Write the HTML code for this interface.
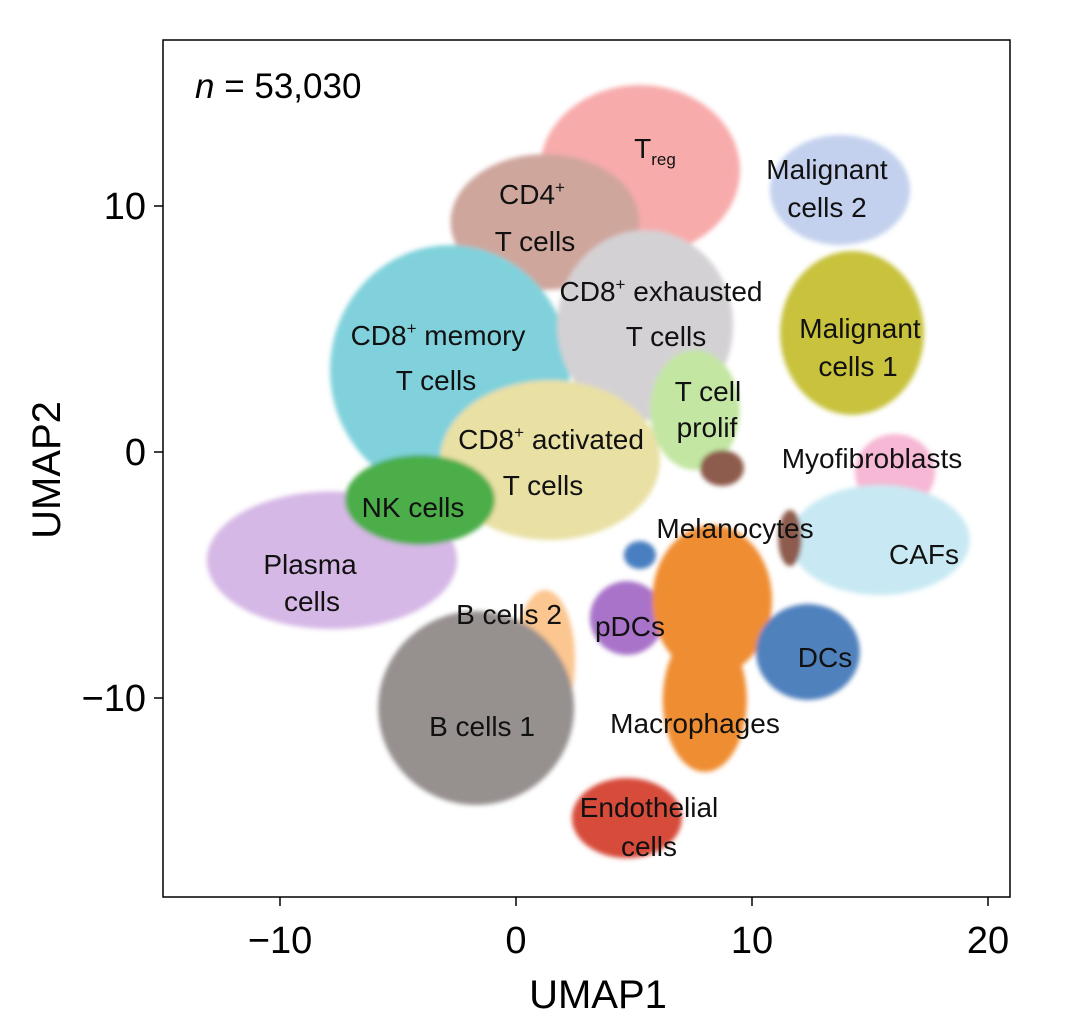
<!DOCTYPE html>
<html><head><meta charset="utf-8"><style>
html,body{margin:0;padding:0;background:#fff;}
svg{display:block;font-family:"Liberation Sans",Arial,sans-serif;}
</style></head><body>
<svg id="chart" width="1080" height="1032" viewBox="0 0 1080 1032">
<defs><filter id="soft" x="-20%" y="-20%" width="140%" height="140%"><feGaussianBlur stdDeviation="2.5"/></filter></defs>
<rect x="163" y="40" width="847" height="857" fill="#fff" stroke="#000" stroke-width="1.5"/>
<g id="marks" filter="url(#soft)"></g>
<g id="axes"></g>
<g id="labels" font-size="28" fill="#111"></g>
<text x="195" y="98" font-size="35"><tspan font-style="italic">n</tspan> = 53,030</text>
<text x="598" y="1008" font-size="40" text-anchor="middle">UMAP1</text>
<text x="0" y="0" font-size="40" text-anchor="middle" transform="translate(60,470) rotate(-90)">UMAP2</text>
</svg>
<script>
const clusterNames=["treg","cd4-t","cd8-memory","cd8-exhausted","cd8-activated","plasma","nk","t-prolif","malignant-2","malignant-1","myofibroblasts","cafs","melanocytes-a","melanocytes-b","b-cells-2","b-cells-1","pdcs","macrophages-top","macrophages-bottom","blue-patch","dcs","endothelial"];
const centerX=[5.25,1.23,-2.8,5.47,1.44,-7.8,-4.07,7.58,13.73,14.24,16.06,15.42,8.73,11.61,1.23,-1.69,4.7,8.31,8.0,5.25,12.37,4.7];
const centerY=[11.46,9.35,3.33,5.16,-0.33,-4.4,-1.95,1.71,10.65,4.84,-0.81,-3.58,-0.65,-3.5,-8.46,-10.41,-6.75,-6.02,-10.08,-4.19,-8.13,-14.88];
const spreadX=[4.24,4.0,5.08,3.73,4.66,5.3,3.18,1.9,2.97,3.05,1.7,3.81,0.93,0.5,1.27,4.15,1.57,2.54,1.78,0.68,2.2,2.33];
const spreadY=[3.46,2.76,5.08,3.86,3.25,2.8,1.83,2.44,2.24,3.33,1.54,2.24,0.73,1.14,2.85,3.94,1.5,3.05,2.93,0.57,1.95,1.63];
const colors=["#f8abab","#cfa69c","#80d1dc","#d4d1d4","#e9e0a4","#d6b8e6","#4cae4a","#c3e6a3","#c4d1ee","#c8c23c","#f6b8d4","#c8e9f3","#8e5c4d","#8e5c4d","#fbc690","#96908f","#a973c9","#ef8d30","#ef8d30","#4a7fc0","#4f81bd","#d74b3b"];
const xTicks=[-10,0,10,20];
const yTicks=[10,0,-10];
const X=v=>516+v*23.6, Y=v=>452-v*24.6;
const NS="http://www.w3.org/2000/svg";
const marks=document.getElementById("marks");
for(let i=0;i<clusterNames.length;i++){
  const e=document.createElementNS(NS,"ellipse");
  e.setAttribute("cx",X(centerX[i]));e.setAttribute("cy",Y(centerY[i]));
  e.setAttribute("rx",spreadX[i]*23.6);e.setAttribute("ry",spreadY[i]*24.6);
  e.setAttribute("fill",colors[i]);
  
  
  marks.appendChild(e);
}
const axes=document.getElementById("axes");
xTicks.forEach(t=>{
  const l=document.createElementNS(NS,"line");
  l.setAttribute("x1",X(t));l.setAttribute("x2",X(t));l.setAttribute("y1",897);l.setAttribute("y2",906);l.setAttribute("stroke","#000");l.setAttribute("stroke-width","1.5");
  
  
  axes.appendChild(l);
  const s=document.createElementNS(NS,"text");
  s.setAttribute("x",X(t));s.setAttribute("y",953);s.setAttribute("font-size","38");s.setAttribute("text-anchor","middle");
  s.textContent=t<0?"\u2212"+(-t):String(t);
  
  
  axes.appendChild(s);
});
yTicks.forEach(t=>{
  const l=document.createElementNS(NS,"line");
  l.setAttribute("y1",Y(t));l.setAttribute("y2",Y(t));l.setAttribute("x1",154);l.setAttribute("x2",163);l.setAttribute("stroke","#000");l.setAttribute("stroke-width","1.5");
  
  
  axes.appendChild(l);
  const s=document.createElementNS(NS,"text");
  s.setAttribute("x",146);s.setAttribute("y",Y(t)+13);s.setAttribute("font-size","38");s.setAttribute("text-anchor","end");
  s.textContent=t<0?"\u2212"+(-t):String(t);
  
  
  axes.appendChild(s);
});
const labelHTML=[
 [655,158,'T<tspan font-size="17" dy="7">reg</tspan>','label-treg'],
 [532,204,'CD4<tspan font-size="17" dy="-11">+</tspan>','label-cd4'],
 [535,251,'T cells','label-cd4-2'],
 [661,301,'CD8<tspan font-size="17" dy="-11">+</tspan><tspan dy="11"> exhausted</tspan>','label-cd8-exh'],
 [666,346,'T cells','label-cd8-exh-2'],
 [438,345,'CD8<tspan font-size="17" dy="-11">+</tspan><tspan dy="11"> memory</tspan>','label-cd8-mem'],
 [436,390,'T cells','label-cd8-mem-2'],
 [551,449,'CD8<tspan font-size="17" dy="-11">+</tspan><tspan dy="11"> activated</tspan>','label-cd8-act'],
 [543,495,'T cells','label-cd8-act-2'],
 [413,517,'NK cells','label-nk'],
 [708,401,'T cell','label-prolif'],
 [707,437,'prolif','label-prolif-2'],
 [827,179,'Malignant','label-mal2'],
 [827,217,'cells 2','label-mal2-2'],
 [860,338,'Malignant','label-mal1'],
 [858,376,'cells 1','label-mal1-2'],
 [872,468,'Myofibroblasts','label-myo'],
 [924,564,'CAFs','label-cafs'],
 [735,538,'Melanocytes','label-melano'],
 [310,574,'Plasma','label-plasma'],
 [312,611,'cells','label-plasma-2'],
 [509,624,'B cells 2','label-b2'],
 [630,636,'pDCs','label-pdcs'],
 [825,667,'DCs','label-dcs'],
 [482,736,'B cells 1','label-b1'],
 [695,733,'Macrophages','label-macro'],
 [649,817,'Endothelial','label-endo'],
 [649,856,'cells','label-endo-2']];
const lg=document.getElementById("labels");
labelHTML.forEach(a=>{
  const t=document.createElementNS(NS,"text");
  t.setAttribute("x",a[0]);t.setAttribute("y",a[1]);t.setAttribute("text-anchor","middle");
  t.innerHTML=a[2];
  
  
  lg.appendChild(t);
});
</script>
</body></html>
